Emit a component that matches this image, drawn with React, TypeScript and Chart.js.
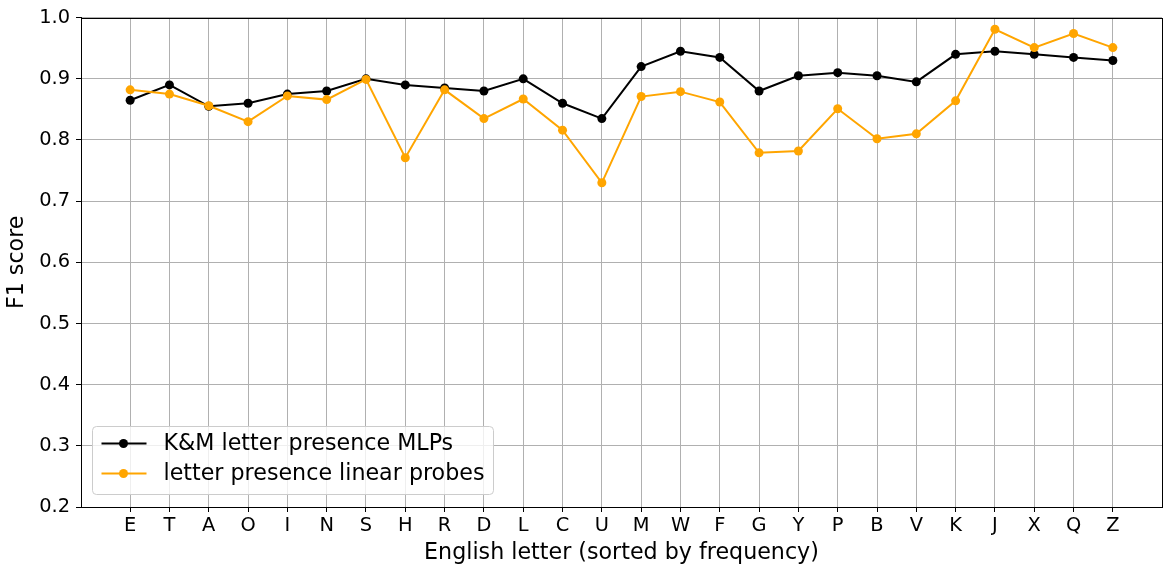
import React, { useEffect, useRef } from "react";
import { Chart, registerables } from "chart.js";

Chart.register(...registerables);

const LETTERS = ["E","T","A","O","I","N","S","H","R","D","L","C","U","M","W","F","G","Y","P","B","V","K","J","X","Q","Z"];
const MLP_F1 = [0.865,0.89,0.855,0.86,0.875,0.88,0.9,0.89,0.885,0.88,0.9,0.86,0.835,0.92,0.945,0.935,0.88,0.905,0.91,0.905,0.895,0.94,0.945,0.94,0.935,0.93];
const PROBE_F1 = [0.882,0.875,0.856,0.830,0.872,0.866,0.899,0.771,0.882,0.835,0.867,0.816,0.730,0.871,0.879,0.862,0.779,0.782,0.851,0.802,0.810,0.864,0.981,0.951,0.974,0.951];
const Y_TICKS = [0.2,0.3,0.4,0.5,0.6,0.7,0.8,0.9,1.0];
const SERIES_NAMES = ["K&M letter presence MLPs", "letter presence linear probes"];
const SERIES_COLORS = ["#000000", "#FFA500"];

const FONT = '"DejaVu Sans"';
const TICK_SIZE = 19.4;
const LABEL_SIZE = 22.2;

const framePlugin = {
  id: "frameAndLegend",
  afterDatasetsDraw(chart: any) {
    const { ctx, chartArea } = chart;
    const { left, right, top, bottom } = chartArea;
    ctx.save();
    // legend
    const bx = left + 11.5, by = bottom - 80.5, bw = 401, bh = 68, r = 4;
    ctx.beginPath();
    ctx.moveTo(bx + r, by);
    ctx.lineTo(bx + bw - r, by);
    ctx.quadraticCurveTo(bx + bw, by, bx + bw, by + r);
    ctx.lineTo(bx + bw, by + bh - r);
    ctx.quadraticCurveTo(bx + bw, by + bh, bx + bw - r, by + bh);
    ctx.lineTo(bx + r, by + bh);
    ctx.quadraticCurveTo(bx, by + bh, bx, by + bh - r);
    ctx.lineTo(bx, by + r);
    ctx.quadraticCurveTo(bx, by, bx + r, by);
    ctx.closePath();
    ctx.fillStyle = "rgba(255,255,255,0.8)";
    ctx.fill();
    ctx.strokeStyle = "#cccccc";
    ctx.lineWidth = 1;
    ctx.stroke();
    SERIES_NAMES.forEach((name, i) => {
      const y = by + 17 + i * 30;
      ctx.strokeStyle = SERIES_COLORS[i];
      ctx.lineWidth = 2;
      ctx.beginPath();
      ctx.moveTo(bx + 9, y);
      ctx.lineTo(bx + 54, y);
      ctx.stroke();
      ctx.fillStyle = SERIES_COLORS[i];
      ctx.beginPath();
      ctx.arc(bx + 31, y, 4.5, 0, Math.PI * 2);
      ctx.fill();
      ctx.fillStyle = "#000";
      ctx.font = `${LABEL_SIZE}px ${FONT}`;
      ctx.textBaseline = "middle";
      ctx.textAlign = "left";
      ctx.fillText(name, bx + 71, y + 1);
    });
    // frame
    ctx.strokeStyle = "#000";
    ctx.lineWidth = 1;
    ctx.strokeRect(Math.round(left) + 0.5, Math.round(top) + 0.5, Math.round(right - left), Math.round(bottom - top));
    ctx.restore();
  },
};

export default function App() {
  const ref = useRef<HTMLCanvasElement>(null);
  useEffect(() => {
    if (!ref.current) return;
    let chart: any = null;
    let cancelled = false;
    const build = () => {
      if (cancelled || !ref.current) return;
      const mk = (vals: number[]) => vals.map((v, i) => ({ x: i, y: v }));
      chart = new Chart(ref.current, {
        type: "line",
        data: {
          datasets: [
            {
              label: SERIES_NAMES[0],
              data: mk(MLP_F1),
              borderColor: SERIES_COLORS[0],
              backgroundColor: SERIES_COLORS[0],
              borderWidth: 2,
              pointRadius: 4.5,
              pointBorderWidth: 0,
              tension: 0,
              order: 1,
            },
            {
              label: SERIES_NAMES[1],
              data: mk(PROBE_F1),
              borderColor: SERIES_COLORS[1],
              backgroundColor: SERIES_COLORS[1],
              borderWidth: 2,
              pointRadius: 4.5,
              pointBorderWidth: 0,
              tension: 0,
              order: 0,
            },
          ],
        },
        options: {
          animation: false,
          responsive: false,
          devicePixelRatio: 1,
          layout: { padding: { left: 0, right: 10, top: 17, bottom: 0 } },
          plugins: { legend: { display: false }, tooltip: { enabled: false } },
          scales: {
            x: {
              type: "linear",
              min: -1.25,
              max: 26.25,
              afterBuildTicks: (scale: any) => {
                scale.ticks = LETTERS.map((_, i) => ({ value: i }));
              },
              afterFit: (scale: any) => {
                scale.height = 64;
              },
              ticks: {
                autoSkip: false,
                maxRotation: 0,
                color: "#000",
                font: { family: FONT, size: TICK_SIZE },
                padding: 2,
                callback: (v: any) => LETTERS[Math.round(Number(v))] ?? "",
              },
              grid: { color: "#b0b0b0", lineWidth: 1, tickLength: 5, tickColor: "#000" },
              border: { display: true, color: "#000", width: 1 },
              title: {
                display: true,
                text: "English letter (sorted by frequency)",
                color: "#000",
                font: { family: FONT, size: LABEL_SIZE },
                padding: { top: 0, bottom: 4 },
              },
            },
            y: {
              type: "linear",
              min: 0.2,
              max: 1.0,
              afterBuildTicks: (scale: any) => {
                scale.ticks = Y_TICKS.map((v) => ({ value: v }));
              },
              afterFit: (scale: any) => {
                scale.width = 81;
              },
              ticks: {
                color: "#000",
                font: { family: FONT, size: TICK_SIZE },
                padding: 6,
                callback: (v: any) => Number(v).toFixed(1),
              },
              grid: { color: "#b0b0b0", lineWidth: 1, tickLength: 5, tickColor: "#000" },
              border: { display: true, color: "#000", width: 1 },
              title: {
                display: true,
                text: "F1 score",
                color: "#000",
                font: { family: FONT, size: LABEL_SIZE },
                padding: { top: 4, bottom: 0 },
              },
            },
          },
        },
        plugins: [framePlugin],
      } as any);
    };
    const fontsApi = (document as any).fonts;
    if (fontsApi && fontsApi.load) {
      Promise.all([
        fontsApi.load(`${TICK_SIZE}px ${FONT}`),
        fontsApi.load(`${LABEL_SIZE}px ${FONT}`),
      ]).then(build, build);
    } else {
      build();
    }
    return () => {
      cancelled = true;
      if (chart) chart.destroy();
    };
  }, []);
  return (
    <div style={{ position: "absolute", left: 0, top: 0, width: 1172, height: 571, background: "#fff" }}>
      <canvas ref={ref} width={1172} height={571} />
    </div>
  );
}
